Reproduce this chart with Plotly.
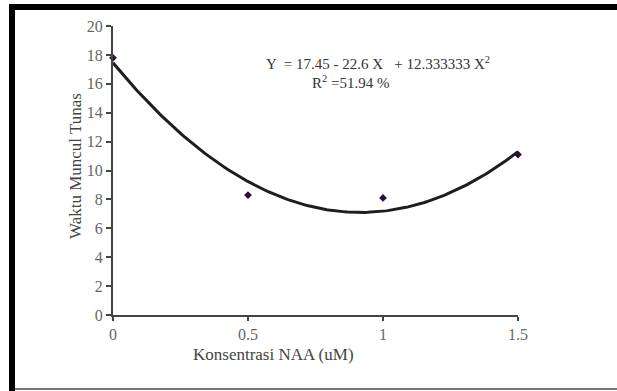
import numpy as np
import plotly.graph_objects as go

# Data
naa = [0, 0.5, 1, 1.5]
waktu = [17.8, 8.3, 8.1, 11.1]
coef = [17.45, -22.6, 12.333333]  # fitted quadratic: a + bX + cX^2
x_ticks = [0, 0.5, 1, 1.5]
x_tick_labels = ["0", "0.5", "1", "1.5"]
y_ticks = list(range(0, 21, 2))

W, H = 617, 391
L, R, T, B = 113, 518, 26, 315  # plot area in px

xf = np.linspace(min(naa), max(naa), 200)
yf = coef[0] + coef[1] * xf + coef[2] * xf ** 2

fig = go.Figure()
fig.add_trace(go.Scatter(x=xf, y=yf, mode="lines",
                         line=dict(color="#1e1e1e", width=3),
                         hoverinfo="skip", cliponaxis=False))
fig.add_trace(go.Scatter(x=naa, y=waktu, mode="markers",
                         marker=dict(color="#2b0f3a", size=6, symbol="diamond"),
                         cliponaxis=False))

def px(xp):
    return (xp - L) / (R - L)

def py(yp):
    return (B - yp) / (B - T)

font = "Liberation Serif, Times New Roman, serif"

shapes = [
    dict(type="rect", xref="paper", yref="paper", x0=px(9), x1=px(617), y0=py(4), y1=py(10),
         fillcolor="black", line=dict(width=0), layer="above"),
    dict(type="rect", xref="paper", yref="paper", x0=px(9), x1=px(15), y0=py(4), y1=py(391),
         fillcolor="black", line=dict(width=0), layer="above"),
    dict(type="rect", xref="paper", yref="paper", x0=px(15), x1=px(617), y0=py(388), y1=py(390),
         fillcolor="#777777", line=dict(width=0), layer="above"),
]

annotations = [
    dict(text="Y  = 17.45 - 22.6 X   + 12.333333 X<sup>2</sup>", xref="paper", yref="paper",
         x=px(264), y=py(63), xanchor="left", yanchor="middle", showarrow=False,
         font=dict(family=font, size=15, color="#333")),
    dict(text="R<sup>2</sup> =51.94 %", xref="paper", yref="paper",
         x=px(350), y=py(82), xanchor="center", yanchor="middle", showarrow=False,
         font=dict(family=font, size=15, color="#333")),
    dict(text="Konsentrasi NAA (uM)", xref="paper", yref="paper",
         x=px(273), y=py(355), xanchor="center", yanchor="middle", showarrow=False,
         font=dict(family=font, size=17, color="#444")),
    dict(text="Waktu Muncul Tunas", xref="paper", yref="paper", textangle=-90,
         x=px(75), y=py(166), xanchor="center", yanchor="middle", showarrow=False,
         font=dict(family=font, size=17, color="#444")),
]

fig.update_layout(
    width=W, height=H,
    margin=dict(l=L, r=W - R, t=T, b=H - B, pad=0),
    paper_bgcolor="white", plot_bgcolor="white",
    showlegend=False,
    shapes=shapes, annotations=annotations,
    xaxis=dict(range=[0, 1.5], tickvals=x_ticks, ticktext=x_tick_labels,
               showgrid=False, zeroline=False, showline=True, linecolor="#444", linewidth=2,
               ticks="outside", ticklen=4, tickcolor="#444", tickwidth=2,
               tickfont=dict(family=font, size=16, color="#666")),
    yaxis=dict(range=[0, 20], tickvals=y_ticks,
               showgrid=False, zeroline=False, showline=True, linecolor="#444", linewidth=2,
               ticks="outside", ticklen=5, tickcolor="#444", tickwidth=2,
               tickfont=dict(family=font, size=16, color="#666")),
)

fig.write_html("out.html", config={"displayModeBar": False},
               post_script="document.body.style.margin='0px';")
